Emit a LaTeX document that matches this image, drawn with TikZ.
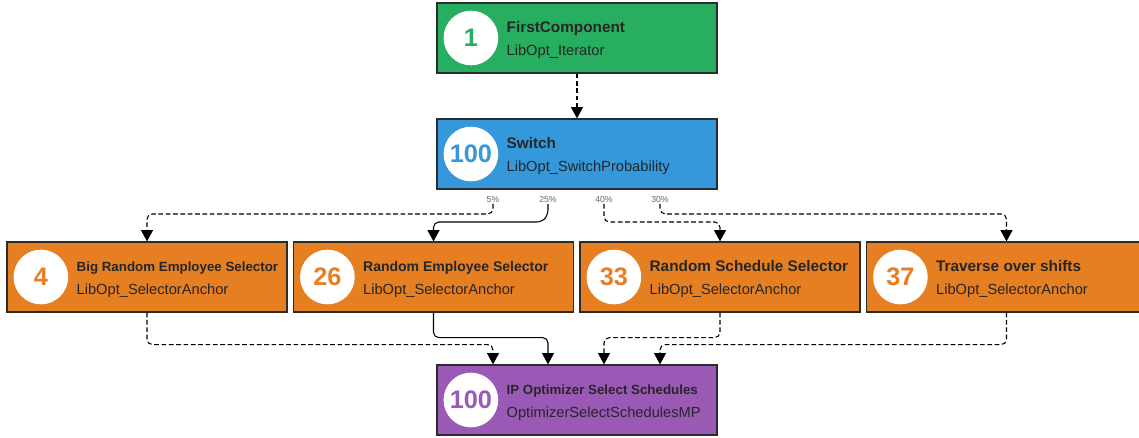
\documentclass[tikz,border=0pt]{standalone}
\usepackage{fontspec}
\setmainfont{Liberation Sans}
\usetikzlibrary{arrows.meta, calc}

\definecolor{flatgreen}{HTML}{27AE60}
\definecolor{flatblue}{HTML}{3498DB}
\definecolor{flatorange}{HTML}{E67E22}
\definecolor{flatpurple}{HTML}{9B59B6}
\definecolor{boxline}{HTML}{2B2B2B}

\begin{document}
\begin{tikzpicture}[
    x=0.75pt, y=-0.75pt,
    comp/.style={rectangle, draw=boxline, line width=0.9pt, minimum width=210pt, minimum height=52.5pt, inner sep=0pt},
    numcirc/.style={circle, fill=white, minimum size=41pt, inner sep=0pt, font=\fontsize{19}{19}\selectfont\bfseries},
    ttl/.style={anchor=base west, inner sep=0pt, text=black!85, font=\fontsize{11.5}{12}\selectfont\bfseries},
    sub/.style={anchor=base west, inner sep=0pt, text=black!85, font=\fontsize{11}{12}\selectfont},
    pct/.style={inner sep=0.5pt, text=black!60, font=\fontsize{6.5}{7}\selectfont},
    link/.style={-{Triangle[width=9pt, length=8.5pt]}, line width=0.8pt, black, rounded corners=4pt},
    dlink/.style={link, dash pattern=on 3.5pt off 2pt}
]
\clip (0,0) rectangle (1139,437);

% iterator
\node[comp, fill=flatgreen] (first) at (577,38) {};
\node[numcirc, text=flatgreen] (first-n) at ($(first.west)+(34.5,0)$) {1};
\node[ttl] (first-t) at ($(first.west)+(70,-6)$) {FirstComponent};
\node[sub] (first-s) at ($(first.west)+(70,17.5)$) {LibOpt\_Iterator};

% switch
\node[comp, fill=flatblue] (switch) at (577,154) {};
\node[numcirc, text=flatblue] (switch-n) at ($(switch.west)+(34.5,0)$) {100};
\node[ttl] (switch-t) at ($(switch.west)+(70,-6)$) {Switch};
\node[sub] (switch-s) at ($(switch.west)+(70,17.5)$) {LibOpt\_SwitchProbability};

% probabilities
\node[pct] (p5) at (493,200) {5\%};
\node[pct] (p25) at (548,200) {25\%};
\node[pct] (p40) at (604,200) {40\%};
\node[pct] (p30) at (660,200) {30\%};

% selectors
\node[comp, fill=flatorange] (sel1) at (147,277) {};
\node[numcirc, text=flatorange] (sel1-n) at ($(sel1.west)+(34.5,0)$) {4};
\node[ttl, font=\fontsize{10}{12}\selectfont\bfseries] (sel1-t) at ($(sel1.west)+(70,-6)$) {Big Random Employee Selector};
\node[sub] (sel1-s) at ($(sel1.west)+(70,17.5)$) {LibOpt\_SelectorAnchor};

\node[comp, fill=flatorange] (sel2) at (433.5,277) {};
\node[numcirc, text=flatorange] (sel2-n) at ($(sel2.west)+(34.5,0)$) {26};
\node[ttl, font=\fontsize{10.5}{12}\selectfont\bfseries] (sel2-t) at ($(sel2.west)+(70,-6)$) {Random Employee Selector};
\node[sub] (sel2-s) at ($(sel2.west)+(70,17.5)$) {LibOpt\_SelectorAnchor};

\node[comp, fill=flatorange] (sel3) at (720,277) {};
\node[numcirc, text=flatorange] (sel3-n) at ($(sel3.west)+(34.5,0)$) {33};
\node[ttl] (sel3-t) at ($(sel3.west)+(70,-6)$) {Random Schedule Selector};
\node[sub] (sel3-s) at ($(sel3.west)+(70,17.5)$) {LibOpt\_SelectorAnchor};

\node[comp, fill=flatorange] (sel4) at (1006.5,277) {};
\node[numcirc, text=flatorange] (sel4-n) at ($(sel4.west)+(34.5,0)$) {37};
\node[ttl] (sel4-t) at ($(sel4.west)+(70,-6)$) {Traverse over shifts};
\node[sub] (sel4-s) at ($(sel4.west)+(70,17.5)$) {LibOpt\_SelectorAnchor};

% optimizer
\node[comp, fill=flatpurple] (ipopt) at (577,400) {};
\node[numcirc, text=flatpurple] (ipopt-n) at ($(ipopt.west)+(34.5,0)$) {100};
\node[ttl, font=\fontsize{10}{12}\selectfont\bfseries] (ipopt-t) at ($(ipopt.west)+(70,-6)$) {IP Optimizer Select Schedules};
\node[sub] (ipopt-s) at ($(ipopt.west)+(70,17.5)$) {OptimizerSelectSchedulesMP};

% connectors
\draw[dlink] (first) -- (switch);

\draw[dlink] (p5.south) -- ++(0,10) -| (sel1.north);
\draw[link] (p25.south) -- ++(0,11) -- ++(-6,7) -| (sel2.north);
\draw[dlink] (p40.south) -- ++(0,18) -| (sel3.north);
\draw[dlink] (p30.south) -- ++(0,10) -| (sel4.north);

\draw[dlink] (sel1.south) -- ++(0,32) -| (p5 |- ipopt.north);
\draw[link] (sel2.south) -- ++(0,25) -| (p25 |- ipopt.north);
\draw[dlink] (sel3.south) -- ++(0,25) -| (p40 |- ipopt.north);
\draw[dlink] (sel4.south) -- ++(0,32) -| (p30 |- ipopt.north);

\end{tikzpicture}
\end{document}
